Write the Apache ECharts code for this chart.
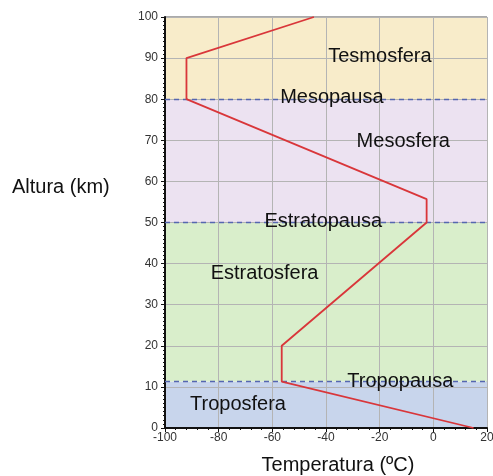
<!DOCTYPE html>
<html>
<head>
<meta charset="utf-8">
<script src="https://cdn.jsdelivr.net/npm/echarts@6/dist/echarts.min.js"></script>
<style>
html,body{margin:0;padding:0;background:#fff;}
#chart{width:493px;height:476px;}
</style>
</head>
<body>
<div id="chart"></div>
<script>
// Temperature profile (°C) vs altitude (km)
const temperatures = [15, -56.5, -56.5, -2.5, -2.5, -92, -92, -44.5];
const altitudes = [0, 11.3, 20, 50, 55.7, 80, 90, 100];

// Layer bands [from km, to km]
const layerNames = ['Troposfera', 'Estratosfera', 'Mesosfera', 'Tesmosfera'];
const layerBottoms = [0, 11.3, 50, 80];
const layerTops = [11.3, 50, 80, 100];
const layerColors = ['#c8d5ec', '#d9eecb', '#ece2f1', '#f8ecca'];

// Boundary (pause) lines
const pauseNames = ['Tropopausa', 'Estratopausa', 'Mesopausa'];
const pauseAltitudes = [11.3, 50, 80];

// Text label positions [temp, alt]
const labelTexts = ['Tesmosfera', 'Mesopausa', 'Mesosfera', 'Estratopausa', 'Estratosfera', 'Tropopausa', 'Troposfera'];
const labelTemps = [-19.9, -37.8, -11.2, -41, -62.9, -12.3, -72.8];
const labelAlts = [90.5, 80.4, 69.8, 50.2, 37.7, 11.4, 5.6];

const xTicks = { min: -100, max: 20, interval: 20 };
const yTicks = { min: 0, max: 100, interval: 10 };

const chart = echarts.init(document.getElementById('chart'), null, { renderer: 'canvas' });
const font = '"Liberation Sans", Arial, sans-serif';

const option = {
  backgroundColor: '#fff',
  animation: false,
  grid: {
    left: 165, right: 6, top: 17, bottom: 48,
    outerBoundsMode: 'none', containLabel: false,
    show: true, borderColor: '#555', borderWidth: 1, backgroundColor: 'transparent', z: 0
  },
  xAxis: {
    type: 'value', min: xTicks.min, max: xTicks.max, interval: xTicks.interval, z: 3,
    name: 'Temperatura (ºC)', nameLocation: 'middle', nameGap: 27,
    nameTextStyle: { fontFamily: font, fontSize: 20, color: '#111', padding: [0, 0, 0, 24] },
    axisLine: { show: true, onZero: false, lineStyle: { color: '#111', width: 2 } },
    axisTick: { show: true, length: 4, lineStyle: { color: '#111' } },
    minorTick: { show: true, splitNumber: 5, length: 2, lineStyle: { color: '#111' } },
    axisLabel: { fontFamily: font, fontSize: 12, color: '#333', margin: 4 },
    splitLine: { show: true, lineStyle: { color: '#b4b4b4', width: 1 } }
  },
  yAxis: {
    type: 'value', min: yTicks.min, max: yTicks.max, interval: yTicks.interval, z: 3,
    axisLine: { show: true, onZero: false, lineStyle: { color: '#111', width: 2 } },
    axisTick: { show: true, length: 4, lineStyle: { color: '#111' } },
    minorTick: { show: true, splitNumber: 10, length: 2, lineStyle: { color: '#111' } },
    axisLabel: { fontFamily: font, fontSize: 12, color: '#333', margin: 7 },
    splitLine: { show: true, lineStyle: { color: '#b4b4b4', width: 1 } }
  },
  graphic: [{
    type: 'text', left: 12, top: 177,
    style: { text: 'Altura (km)', fontFamily: font, fontSize: 20, fill: '#111' }
  }],
  series: [
    {
      type: 'line', silent: true, z: 1,
      data: [],
      markArea: {
        silent: true,
        itemStyle: { opacity: 1 },
        data: layerBottoms.map((b, i) => [
          { yAxis: b, itemStyle: { color: layerColors[i] } },
          { yAxis: layerTops[i] }
        ])
      }
    },
    {
      type: 'line', silent: true, z: 4,
      data: [],
      markLine: {
        silent: true, symbol: 'none', label: { show: false },
        lineStyle: { color: '#5566b0', type: [5, 4], width: 1.3 },
        data: pauseAltitudes.map(a => ({ yAxis: a }))
      }
    },
    {
      type: 'line', z: 5, showSymbol: false, symbol: 'none',
      lineStyle: { color: '#d9363a', width: 1.8 },
      data: temperatures.map((t, i) => [t, altitudes[i]])
    },
    {
      type: 'scatter', z: 6, symbolSize: 0,
      itemStyle: { opacity: 1 },
      label: {
        show: true, position: 'inside', fontFamily: font, fontSize: 20, color: '#111',
        formatter: p => labelTexts[p.dataIndex]
      },
      data: labelTemps.map((t, i) => [t, labelAlts[i]])
    }
  ]
};
chart.setOption(option);
</script>
</body>
</html>
